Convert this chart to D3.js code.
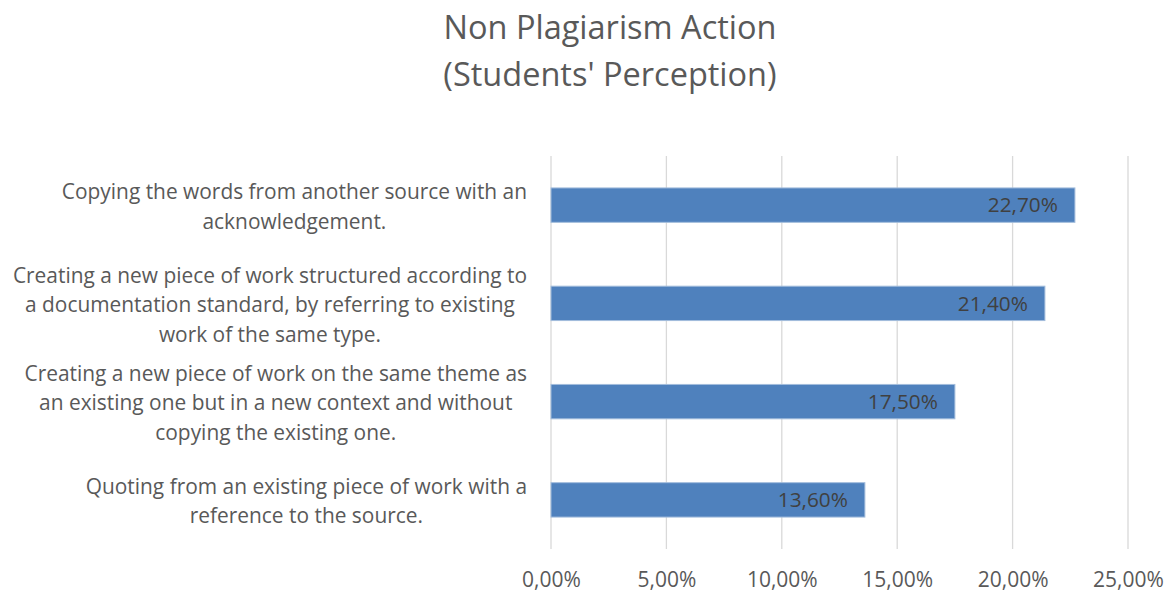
<!DOCTYPE html>
<meta charset="utf-8">
<style>
  body { margin: 0; background: #fff; }
  text { font-family: "Open Sans", Lato, sans-serif; }
  .grid line { stroke: #d9d9d9; stroke-width: 1.3; }
  .bar { fill: #4f81bd; stroke: #a3bddc; stroke-width: 1; }
</style>
<svg width="1173" height="594"></svg>
<script src="https://cdnjs.cloudflare.com/ajax/libs/d3/7.8.5/d3.min.js"></script>
<script>

// data, top to bottom
var categories = [
  ["Copying the words from another source with an", "acknowledgement."],
  ["Creating a new piece of work structured according to", "a documentation standard, by referring to existing", "work of the same type."],
  ["Creating a new piece of work on the same theme as", "an existing one but in a new context and without", "copying the existing one."],
  ["Quoting from an existing piece of work with a", "reference to the source."]
];
var values = [0.227, 0.214, 0.175, 0.136];
var ticks = [0, 0.05, 0.10, 0.15, 0.20, 0.25];
var titleLines = ["Non Plagiarism Action", "(Students' Perception)"];

var svg = d3.select("svg");

var locale = d3.formatLocale({decimal: ",", thousands: ".", grouping: [3], currency: ["", "€"]});
var pct = locale.format(".2%");

var x = d3.scaleLinear()
    .domain([0, 0.25])
    .range([551, 1128]);

var y = d3.scaleBand()
    .domain(d3.range(categories.length))
    .range([156, 549])
    .paddingInner(0.65)
    .paddingOuter(0.325);

// title
svg.append("text")
    .attr("x", 610)
    .attr("y", 39)
    .attr("text-anchor", "middle")
    .attr("fill", "#595959")
    .style("font-size", "32.5px")
  .selectAll("tspan")
  .data(titleLines)
  .enter().append("tspan")
    .attr("x", 610)
    .attr("dy", function(d, i) { return i ? 47 : 0; })
    .text(function(d) { return d; });

// vertical gridlines
svg.append("g")
    .attr("class", "grid")
  .selectAll("line")
  .data(ticks)
  .enter().append("line")
    .attr("x1", function(d) { return x(d); })
    .attr("x2", function(d) { return x(d); })
    .attr("y1", 156)
    .attr("y2", 549);

// x axis labels
var xAxis = svg.append("g")
    .attr("transform", "translate(0,572)")
    .call(d3.axisBottom(x).tickValues(ticks).tickFormat(pct).tickSize(0).tickPadding(0));
xAxis.select(".domain").remove();
xAxis.selectAll("text")
    .attr("fill", "#595959")
    .style("font-size", "21px")
    .style("font-family", "'Open Sans', Lato, sans-serif");

// bars
svg.selectAll(".bar")
  .data(values)
  .enter().append("rect")
    .attr("class", "bar")
    .attr("x", x(0))
    .attr("y", function(d, i) { return y(i); })
    .attr("width", function(d) { return x(d) - x(0); })
    .attr("height", y.bandwidth());

// data labels inside the bars
svg.selectAll(".val")
  .data(values)
  .enter().append("text")
    .attr("class", "val")
    .attr("x", function(d) { return x(d) - 17; })
    .attr("y", function(d, i) { return y(i) + y.bandwidth() / 2; })
    .attr("dy", "0.35em")
    .attr("text-anchor", "end")
    .attr("fill", "#404040")
    .style("font-size", "20.8px")
    .text(function(d) { return pct(d); });

// category labels: each block centred on itself, widest line ends at labelRight
var lineH = 29.5, labelRight = 527;
var cat = svg.selectAll(".cat")
  .data(categories)
  .enter().append("text")
    .attr("class", "cat")
    .attr("text-anchor", "middle")
    .attr("fill", "#595959")
    .style("font-size", "20.9px")
    .attr("y", function(d, i) { return y(i) + y.bandwidth() / 2 + 1.5 - (d.length - 1) * lineH / 2; });

cat.selectAll("tspan")
  .data(function(d) { return d; })
  .enter().append("tspan")
    .attr("dy", function(d, i) { return i ? lineH : "0.35em"; })
    .text(function(d) { return d; });

cat.each(function() {
  var spans = d3.select(this).selectAll("tspan");
  var w = d3.max(spans.nodes(), function(n) { return n.getComputedTextLength(); });
  spans.attr("x", labelRight - w / 2);
});

</script>
